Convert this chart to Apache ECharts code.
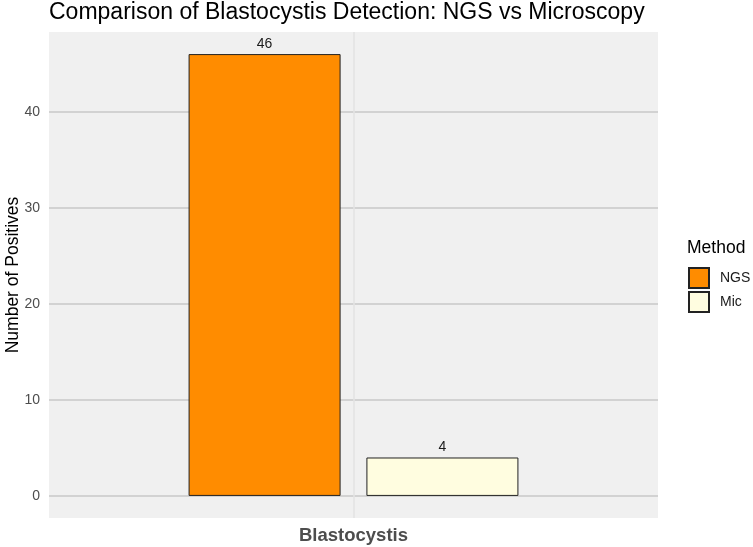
<!DOCTYPE html>
<html lang="en">
<head>
	<meta charset="UTF-8">
	<title>Blastocystis detection</title>
	<script src="https://cdn.jsdelivr.net/npm/echarts@6/dist/echarts.min.js"></script>
	<style>
		html, body { margin: 0; padding: 0; background: #fff; }
		#charts { width: 753px; height: 547px; }
	</style>
</head>
<body>
<div id="charts"></div>
<script>
	var categories = ['Blastocystis'];
	var methods = ['NGS', 'Mic'];
	var ngsValues = [46];
	var micValues = [4];
	var yTicks = [0, 10, 20, 30, 40];

	var font = 'Liberation Sans, Arial, sans-serif';
	var charts = echarts.init(document.getElementById('charts'));

	charts.setOption({
		textStyle: { fontFamily: font },
		title: [
			{
				text: 'Comparison of Blastocystis Detection: NGS vs Microscopy',
				left: 49,
				top: 1,
				padding: 0,
				textStyle: { fontSize: 23, fontWeight: 'normal', color: '#000' }
			},
			{
				text: 'Method',
				left: 687,
				top: 239,
				padding: 0,
				textStyle: { fontSize: 17.5, fontWeight: 'normal', color: '#000' }
			}
		],
		legend: {
			orient: 'vertical',
			left: 683,
			top: 262,
			itemWidth: 20,
			itemHeight: 20,
			itemGap: 2,
			icon: 'rect',
			selectedMode: false,
			textStyle: { fontSize: 14, color: '#1a1a1a', padding: [0, 0, 0, 6] },
			data: methods
		},
		grid: {
			left: 49,
			right: 95,
			top: 32,
			bottom: 29,
			outerBoundsMode: 'none',
			containLabel: false,
			show: true,
			backgroundColor: '#F0F0F0',
			borderWidth: 0
		},
		xAxis: {
			type: 'category',
			data: categories,
			axisLine: { show: false },
			axisTick: { show: false },
			splitLine: { show: false },
			axisLabel: { fontSize: 18.5, fontWeight: 'bold', color: '#4d4d4d', margin: 8 }
		},
		yAxis: {
			type: 'value',
			min: -2.3,
			max: 48.3,
			name: 'Number of Positives',
			nameLocation: 'middle',
			nameGap: 27,
			nameMoveOverlap: false,
			nameTextStyle: { fontSize: 17.5, color: '#000' },
			axisLine: { show: false },
			axisTick: { show: false, customValues: yTicks },
			axisLabel: { fontSize: 14, color: '#4d4d4d', margin: 9, customValues: yTicks },
			splitLine: { show: true, lineStyle: { color: '#C8C8C8', width: 1.5 } }
		},
		series: [
			{
				name: methods[0],
				type: 'bar',
				barWidth: 152,
				barGap: '17%',
				data: ngsValues,
				itemStyle: { color: '#FF8C00', borderColor: '#222', borderWidth: 1 },
				label: { show: true, position: 'top', distance: 3, fontSize: 14, color: '#1a1a1a' },
				z: 3
			},
			{
				name: methods[1],
				type: 'bar',
				barWidth: 152,
				data: micValues,
				itemStyle: { color: '#FFFDE0', borderColor: '#222', borderWidth: 1 },
				label: { show: true, position: 'top', distance: 3, fontSize: 14, color: '#1a1a1a' },
				z: 3
			},
			{
				// vertical major grid line at the category centre
				name: 'grid',
				type: 'line',
				data: [],
				silent: true,
				z: 1,
				markLine: {
					silent: true,
					symbol: 'none',
					label: { show: false },
					lineStyle: { color: '#E3E3E3', type: 'solid', width: 1.5 },
					data: [{ xAxis: categories[0] }]
				}
			}
		]
	});
</script>
</body>
</html>
